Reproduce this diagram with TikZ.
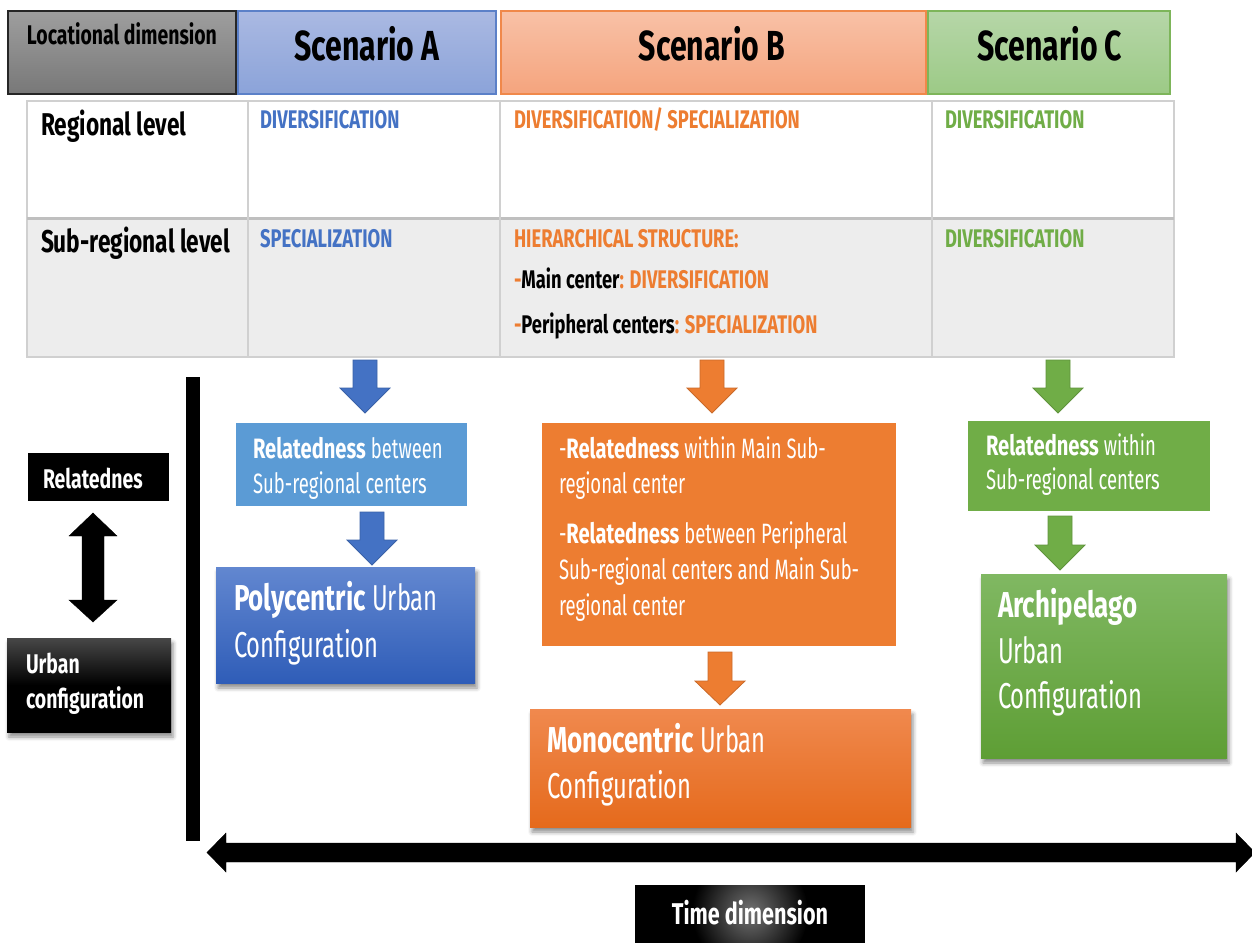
\documentclass[tikz,border=0pt]{standalone}
\usepackage{fontspec}
\setmainfont{Fira Sans}[FakeStretch=0.66, BoldFeatures={FakeStretch=0.72}]
\usetikzlibrary{shadows.blur}

\definecolor{accBlue}{HTML}{4472C4}
\definecolor{accOrange}{HTML}{ED7D31}
\definecolor{accGreen}{HTML}{70AD47}
\definecolor{lightBlue}{HTML}{5B9BD5}
\definecolor{gridGray}{HTML}{D0D0D0}
\definecolor{rowGray}{HTML}{EDEDED}

% down-pointing block arrow: x, shaft top, head base, tip
\newcommand\blockdown[5]{%
  \draw[#5] (#1-12,#2) -- (#1+12,#2) -- (#1+12,#3) -- (#1+25,#3) -- (#1,#4)
    -- (#1-25,#3) -- (#1-12,#3) -- cycle;}

\begin{document}
\begin{tikzpicture}[x=1pt,y=-1pt,
  panel/.style={rectangle, anchor=north west, inner sep=0pt, outer sep=0pt},
  txt/.style={anchor=base west, inner sep=0pt, outer sep=0pt},
  fnHead/.style={font=\fontsize{42}{48}\selectfont\bfseries},
  fnLoc/.style={font=\fontsize{27}{30}\selectfont\bfseries},
  fnRow/.style={font=\fontsize{31.5}{36}\selectfont\bfseries},
  fnTag/.style={font=\fontsize{25.5}{28}\selectfont\bfseries},
  fnBody/.style={font=\fontsize{28}{34}\selectfont, text=white},
  fnBig/.style={font=\fontsize{36}{44}\selectfont, text=white},
  fnSide/.style={font=\fontsize{27}{34}\selectfont\bfseries, text=white},
  softshadow/.style={blur shadow={shadow xshift=2pt, shadow yshift=-5pt,
      shadow blur radius=4pt, shadow opacity=45}},
  gridline/.style={draw=gridGray, line width=2pt},
  arrBlue/.style={fill=accBlue, draw=accBlue!85!black, line width=0.8pt},
  arrOrange/.style={fill=accOrange, draw=accOrange!85!black, line width=0.8pt},
  arrGreen/.style={fill=accGreen, draw=accGreen!85!black, line width=0.8pt},
]
\useasboundingbox (0,0) rectangle (1252,942);

% ---------- header row ----------
\node[panel, top color=black!38, bottom color=black!53, draw=black!85, line width=1.2pt,
      minimum width=228, minimum height=83] (loc) at (8,11) {};
\node[panel, top color={rgb,255:red,170;green,185;blue,226}, bottom color={rgb,255:red,139;green,163;blue,217},
      draw={rgb,255:red,91;green,128;blue,200}, line width=1.2pt,
      minimum width=258, minimum height=83] (scA) at (238,11) {};
\node[panel, top color={rgb,255:red,248;green,193;blue,167}, bottom color={rgb,255:red,245;green,164;blue,125},
      draw={rgb,255:red,240;green,136;blue,74}, line width=1.2pt,
      minimum width=425, minimum height=83] (scB) at (501,11) {};
\node[panel, top color={rgb,255:red,182;green,214;blue,168}, bottom color={rgb,255:red,156;green,202;blue,134},
      draw={rgb,255:red,125;green,181;blue,90}, line width=1.2pt,
      minimum width=242, minimum height=83] (scC) at (928,11) {};

\node[txt, fnLoc] (locT) at (27,45) {Locational dimension};
\node[fnHead, anchor=base, inner sep=0pt] (scAT) at (367,60) {Scenario A};
\node[fnHead, anchor=base, inner sep=0pt] (scBT) at (712,60) {Scenario B};
\node[fnHead, anchor=base, inner sep=0pt] (scCT) at (1050,60) {Scenario C};

% ---------- table ----------
\node[panel, fill=white, minimum width=1147, minimum height=117] (row1) at (27,101) {};
\node[panel, fill=rowGray, minimum width=1147, minimum height=139] (row2) at (27,218) {};
\draw[gridline] (row1.north west) rectangle (row2.south east);
\draw[gridline, draw=black!25, line width=3pt] (row2.north west) -- (row2.north east);
\foreach \cx in {248,500,932} \draw[gridline] (\cx,101) -- (\cx,357);

\node[txt, fnRow] (regL) at (41,135) {Regional level};
\node[txt, fnRow] (subL) at (41,252) {Sub-regional level};

\node[txt, fnTag, text=accBlue] (aReg) at (260,128) {DIVERSIFICATION};
\node[txt, fnTag, text=accBlue] (aSub) at (260,247) {SPECIALIZATION};

\node[txt, fnTag, text=accOrange] (bReg) at (514,128) {DIVERSIFICATION/ SPECIALIZATION};
\node[txt, fnTag, text=accOrange] (bSub) at (514,247) {HIERARCHICAL STRUCTURE:};
\node[txt, fnTag, text=accOrange] (bMain) at (514,288) {-\textcolor{black}{Main center}: DIVERSIFICATION};
\node[txt, fnTag, text=accOrange] (bPer) at (514,333) {-\textcolor{black}{Peripheral centers}: SPECIALIZATION};

\node[txt, fnTag, text=accGreen] (cReg) at (945,128) {DIVERSIFICATION};
\node[txt, fnTag, text=accGreen] (cSub) at (945,247) {DIVERSIFICATION};

% ---------- scenario A ----------
\blockdown{365}{360}{388}{413}{arrBlue}
\node[panel, fill=lightBlue, minimum width=231, minimum height=83] (relA) at (236,423) {};
\node[txt, fnBody] (relA1) at (253,458) {\textbf{Relatedness} between};
\node[txt, fnBody] (relA2) at (253,493) {Sub-regional centers};
\blockdown{372}{512}{540}{565}{arrBlue}
\node[panel, softshadow, top color={rgb,255:red,98;green,135;blue,208}, bottom color={rgb,255:red,47;green,93;blue,184},
      minimum width=259, minimum height=116] (polyA) at (216,567) {};
\node[txt, fnBig] (polyA1) at (234,610) {\textbf{Polycentric} Urban};
\node[txt, fnBig] (polyA2) at (234,657) {Configuration};

% ---------- scenario B ----------
\blockdown{712}{360}{388}{413}{arrOrange}
\node[panel, fill=accOrange, minimum width=354, minimum height=223] (relB) at (542,423) {};
\node[txt, fnBody] (relB1) at (559,458) {-\textbf{Relatedness} within Main Sub-};
\node[txt, fnBody] (relB2) at (559,493) {regional center};
\node[txt, fnBody] (relB3) at (559,543) {-\textbf{Relatedness} between Peripheral};
\node[txt, fnBody] (relB4) at (559,579) {Sub-regional centers and Main Sub-};
\node[txt, fnBody] (relB5) at (559,615) {regional center};
\blockdown{720}{652}{681}{705}{arrOrange}
\node[panel, softshadow, top color={rgb,255:red,240;green,137;blue,78}, bottom color={rgb,255:red,229;green,106;blue,28},
      minimum width=381, minimum height=118] (monoB) at (530,709) {};
\node[txt, fnBig] (monoB1) at (547,752) {\textbf{Monocentric} Urban};
\node[txt, fnBig] (monoB2) at (547,798) {Configuration};

% ---------- scenario C ----------
\blockdown{1058}{360}{388}{413}{arrGreen}
\node[panel, fill=accGreen, minimum width=242, minimum height=90] (relC) at (968,421) {};
\node[txt, fnBody] (relC1) at (986,455) {\textbf{Relatedness} within};
\node[txt, fnBody] (relC2) at (986,489) {Sub-regional centers};
\blockdown{1060}{516}{545}{570}{arrGreen}
\node[panel, softshadow, top color={rgb,255:red,128;green,184;blue,98}, bottom color={rgb,255:red,94;green,158;blue,53},
      minimum width=246, minimum height=184] (archC) at (981,574) {};
\node[txt, fnBig] (archC1) at (998,617) {\textbf{Archipelago}};
\node[txt, fnBig] (archC2) at (998,663) {Urban};
\node[txt, fnBig] (archC3) at (998,708) {Configuration};

% ---------- side legend ----------
\node[panel, fill=black, minimum width=141, minimum height=48] (relL) at (28,453) {};
\node[txt, fnSide] (relLT) at (43,488) {Relatednes};
\draw[fill=black] (93,513) -- (117,536) -- (104,536) -- (104,600) -- (117,600) -- (93,622)
  -- (69,600) -- (82,600) -- (82,536) -- (69,536) -- cycle;
\node[panel, softshadow, top color=black!72, bottom color=black, middle color=black,
      minimum width=164, minimum height=94] (urbL) at (7,638) {};
\node[txt, fnSide] (urbL1) at (26,673) {Urban};
\node[txt, fnSide] (urbL2) at (26,708) {configuration};

% ---------- axes ----------
\fill[black] (186,377) rectangle (200,841);
\draw[fill=black] (207,852.5) -- (226,833) -- (226,843) -- (1236,843) -- (1236,833) -- (1255,852.5)
  -- (1236,872) -- (1236,862) -- (226,862) -- (226,872) -- cycle;

\node[panel, fill=black, minimum width=230, minimum height=60] (timeB) at (635,885) {};
\begin{scope}
  \clip (timeB.north west) rectangle (timeB.south east);
  \shade[inner color=black!55, outer color=black] (750,912) ellipse (58 and 60);
\end{scope}
\node[font=\fontsize{30}{36}\selectfont\bfseries, text=white, anchor=base, inner sep=0pt] (timeT) at (750,924) {Time dimension};
\end{tikzpicture}
\end{document}
